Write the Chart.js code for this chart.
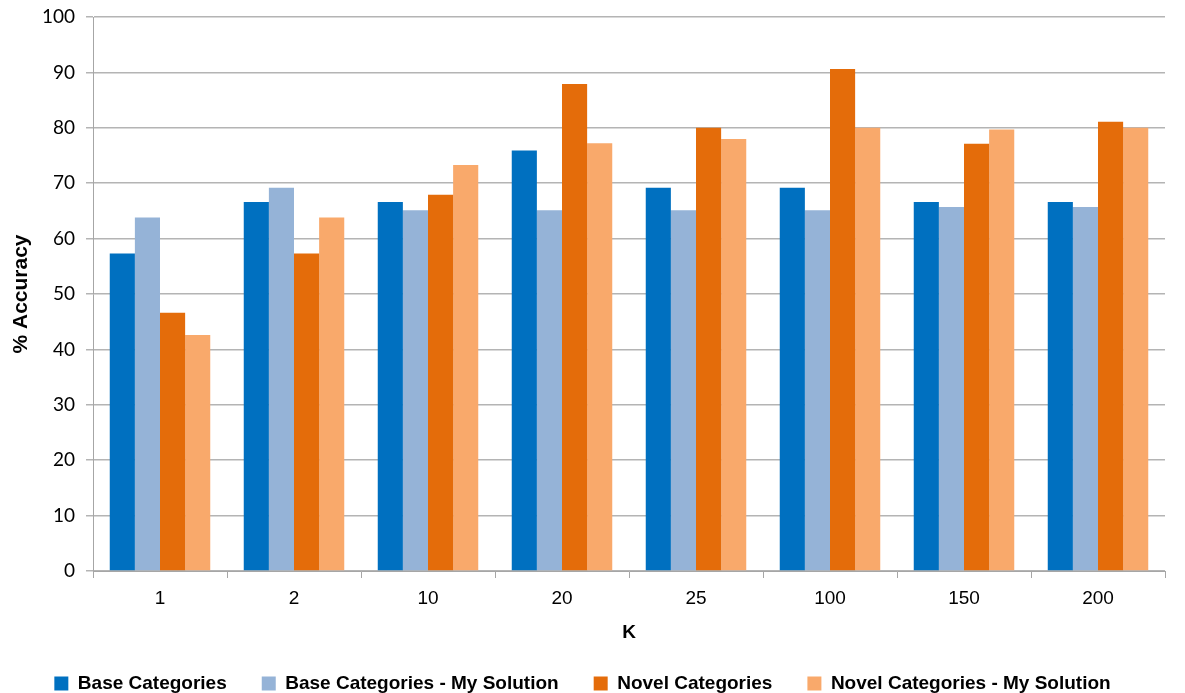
<!DOCTYPE html>
<html>
<head>
<meta charset="utf-8">
<script src="https://cdn.jsdelivr.net/npm/chart.js@4.4.1/dist/chart.umd.min.js"></script>
<style>
html,body{margin:0;padding:0;background:#fff;}
#wrap{width:1185px;height:693px;position:relative;}
</style>
</head>
<body>
<div id="wrap"><canvas id="c" width="1185" height="693"></canvas></div>
<script>
const categories = ["1","2","10","20","25","100","150","200"];
const baseCategories = [57.3, 66.6, 66.6, 75.9, 69.2, 69.2, 66.6, 66.6];
const baseMySolution = [63.8, 69.2, 65.1, 65.1, 65.1, 65.1, 65.7, 65.7];
const novelCategories = [46.6, 57.3, 67.9, 87.9, 80.0, 90.6, 77.1, 81.1];
const novelMySolution = [42.6, 63.8, 73.3, 77.2, 78.0, 80.0, 79.7, 80.0];
const seriesNames = ["Base Categories","Base Categories - My Solution","Novel Categories","Novel Categories - My Solution"];
const colors = ["#0070C0","#95B3D7","#E46C0A","#F9A96B"];
const yTicks = [0,10,20,30,40,50,60,70,80,90,100];

const data = {
  labels: categories,
  datasets: [baseCategories, baseMySolution, novelCategories, novelMySolution].map((d,i)=>({
    label: seriesNames[i],
    data: d,
    backgroundColor: colors[i],
    borderWidth: 0,
    categoryPercentage: 0.75,
    barPercentage: 1.0
  }))
};

// shrink the legend box so it sits lower (closer to the bottom edge)
const legendShift = {
  id: 'legendShift',
  beforeLayout(chart) {
    const lg = chart.legend;
    if (lg && !lg._wrapped) {
      const orig = lg.fit.bind(lg);
      lg.fit = function() { orig(); this.height = Math.max(this.height - 10, 0); };
      lg._wrapped = true;
    }
  }
};

new Chart(document.getElementById('c'), {
  type: 'bar',
  data,
  plugins: [legendShift],
  options: {
    responsive: false,
    animation: false,
    layout: { padding: { left: 0, right: 20, top: 0, bottom: 0 } },
    plugins: {
      tooltip: { enabled: false },
      legend: {
        position: 'bottom',
        labels: {
          boxWidth: 14, boxHeight: 14, padding: 35,
          color: '#000',
          font: { family: 'Liberation Sans, Arial, sans-serif', size: 19, weight: 'bold' }
        }
      }
    },
    scales: {
      x: {
        grid: { display: true, drawOnChartArea: false, drawTicks: true, tickLength: 7, color: '#A6A6A6', offset: true },
        border: { display: true, color: '#A6A6A6', width: 1 },
        ticks: { color: '#000', padding: 9, font: { family: 'Liberation Sans, Arial, sans-serif', size: 19 } },
        title: { display: true, text: 'K', color: '#000', padding: { top: 6, bottom: -5 }, font: { family: 'Liberation Sans, Arial, sans-serif', size: 19, weight: 'bold' } },
        afterFit: (s) => { s.height = 68; }
      },
      y: {
        min: 0, max: 100,
        afterBuildTicks: (s) => { s.ticks = yTicks.map(v=>({value:v})); },
        grid: { color: '#B4B4B4', lineWidth: 1.5, drawTicks: true, tickLength: 7 },
        border: { display: true, color: '#A6A6A6', width: 1 },
        ticks: { color: '#000', padding: 11, font: { family: 'Lato, Carlito, sans-serif', size: 19 } },
        title: { display: true, text: '% Accuracy', color: '#000', padding: { top: 9, bottom: 0 }, font: { family: 'Liberation Sans, Arial, sans-serif', size: 21, weight: 'bold' } },
        afterFit: (s) => { s.width = 93; s.paddingTop = 17; }
      }
    }
  }
});
</script>
</body>
</html>
